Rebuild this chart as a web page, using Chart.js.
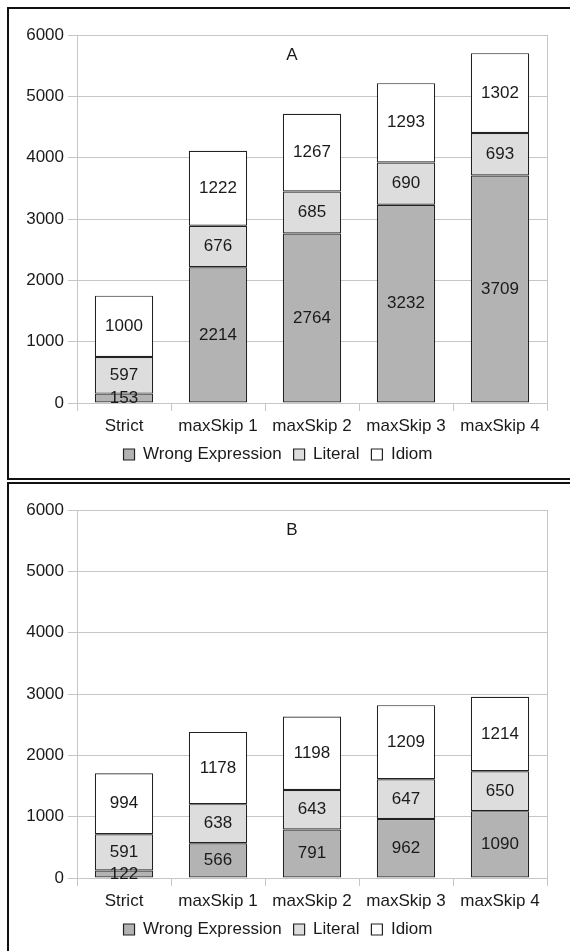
<!DOCTYPE html>
<html>
<head>
<meta charset="utf-8">
<script src="https://cdn.jsdelivr.net/npm/chart.js@4"></script>
<style>
  html, body { margin: 0; padding: 0; background: #fff; overflow: hidden; }
  .panel { position: absolute; left: 7px; width: 566px; height: 469px; border: 2px solid #111; background: #fff; }
  #panelA { top: 7px; }
  #panelB { top: 482px; }
  canvas { display: block; }
</style>
</head>
<body>
<div class="panel" id="panelA"><canvas id="chartA" width="566" height="469"></canvas></div>
<div class="panel" id="panelB"><canvas id="chartB" width="566" height="469"></canvas></div>
<script>
const categories = ['Strict', 'maxSkip 1', 'maxSkip 2', 'maxSkip 3', 'maxSkip 4'];
const seriesNames = ['Wrong Expression', 'Literal', 'Idiom'];

// panel A
const wrongA = [153, 2214, 2764, 3232, 3709];
const literalA = [597, 676, 685, 690, 693];
const idiomA = [1000, 1222, 1267, 1293, 1302];

// panel B
const wrongB = [122, 566, 791, 962, 1090];
const literalB = [591, 638, 643, 647, 650];
const idiomB = [994, 1178, 1198, 1209, 1214];

const yMin = 0, yMax = 6000, yStep = 1000;

const fillColors = ['#b3b3b3', '#dddddd', '#ffffff'];
const edgeColor = '#222222';
const gridColor = '#c6c6c6';
const textColor = '#1a1a1a';
const fontFamily = '"Liberation Sans", Arial, sans-serif';

// numbers in the middle of each stacked piece
const segmentLabels = {
  id: 'segmentLabels',
  afterDatasetsDraw(chart) {
    const ctx = chart.ctx;
    ctx.save();
    ctx.font = '17px ' + fontFamily;
    ctx.fillStyle = textColor;
    ctx.textAlign = 'center';
    ctx.textBaseline = 'middle';
    chart.data.datasets.forEach((ds, i) => {
      chart.getDatasetMeta(i).data.forEach((bar, j) => {
        ctx.fillText(String(ds.data[j]), bar.x, (bar.y + bar.base) / 2);
      });
    });
    ctx.restore();
  }
};

// right edge of the plot frame and the panel letter
const frameAndLetter = {
  id: 'frameAndLetter',
  beforeDatasetsDraw(chart, args, opts) {
    const {ctx, chartArea} = chart;
    ctx.save();
    ctx.strokeStyle = gridColor;
    ctx.lineWidth = 1;
    ctx.beginPath();
    ctx.moveTo(Math.round(chartArea.right) + 0.5, chartArea.top);
    ctx.lineTo(Math.round(chartArea.right) + 0.5, chartArea.bottom + 8);
    ctx.stroke();
    ctx.font = '17px ' + fontFamily;
    ctx.fillStyle = textColor;
    ctx.textAlign = 'center';
    ctx.textBaseline = 'middle';
    ctx.fillText(opts.text, chart.width / 2, chartArea.top + 20);
    ctx.restore();
  }
};

function makeChart(canvasId, letter, wrong, literal, idiom) {
  const values = [wrong, literal, idiom];
  return new Chart(document.getElementById(canvasId), {
    type: 'bar',
    data: {
      labels: categories,
      datasets: seriesNames.map((name, i) => ({
        label: name,
        data: values[i],
        backgroundColor: fillColors[i],
        borderColor: edgeColor,
        borderWidth: 1.2,
        borderSkipped: false,
        categoryPercentage: 1,
        barPercentage: 0.62
      }))
    },
    options: {
      responsive: false,
      animation: false,
      layout: { padding: { top: 26, right: 28, bottom: 5, left: 0 } },
      scales: {
        x: {
          stacked: true,
          grid: { drawOnChartArea: false, drawTicks: true, tickLength: 8, color: gridColor, offset: true },
          border: { color: gridColor },
          ticks: { color: textColor, padding: 5, font: { family: fontFamily, size: 17 } },
          afterFit(scale) { scale.height = 31; }
        },
        y: {
          stacked: true,
          min: yMin,
          max: yMax,
          grid: { color: gridColor, tickLength: 9 },
          border: { color: gridColor },
          ticks: {
            stepSize: yStep,
            color: textColor,
            padding: 4,
            font: { family: fontFamily, size: 17 },
            callback: v => String(v)
          },
          afterFit(scale) { scale.width = 68; }
        }
      },
      plugins: {
        legend: {
          position: 'bottom',
          labels: {
            boxWidth: 11,
            boxHeight: 11,
            padding: 12,
            color: textColor,
            font: { family: fontFamily, size: 17 }
          }
        },
        tooltip: { enabled: false },
        frameAndLetter: { text: letter }
      }
    },
    plugins: [segmentLabels, frameAndLetter]
  });
}

makeChart('chartA', 'A', wrongA, literalA, idiomA);
makeChart('chartB', 'B', wrongB, literalB, idiomB);
</script>
</body>
</html>
